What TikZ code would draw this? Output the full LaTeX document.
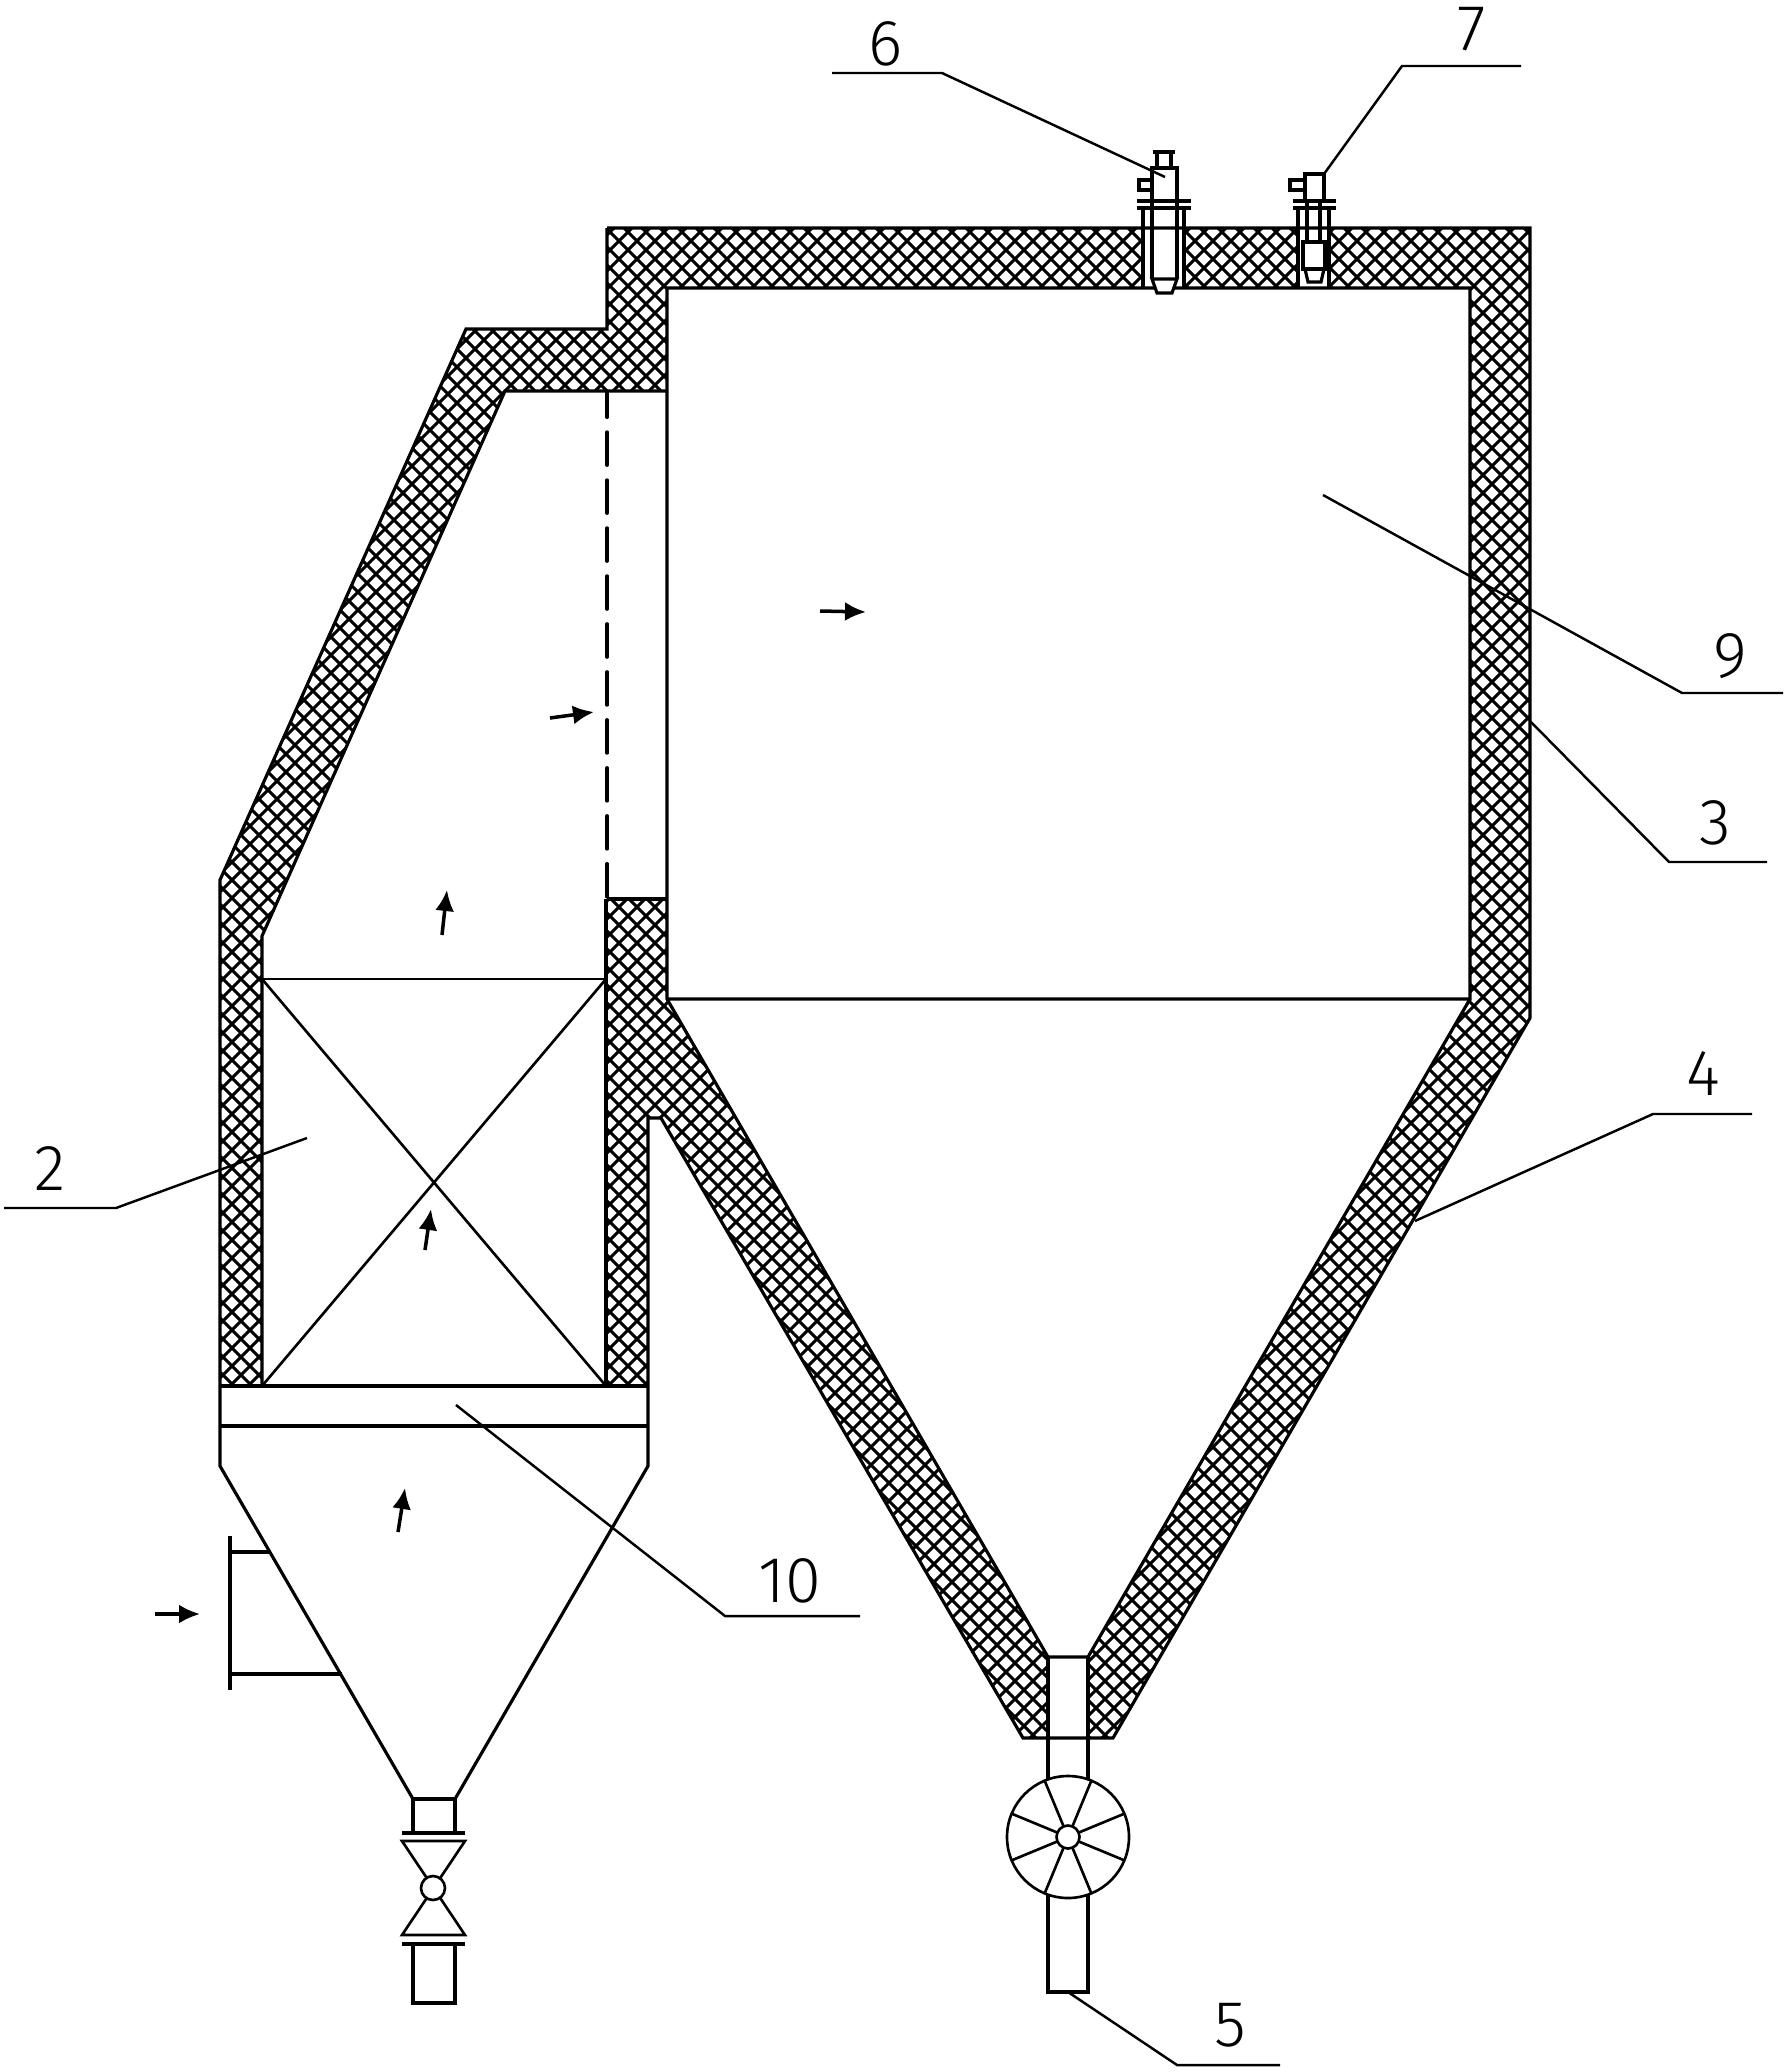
\documentclass[tikz,border=0pt]{standalone}
\usepackage{fontspec}
\setmainfont{Fira Sans}[UprightFont=* Light]
\usetikzlibrary{arrows.meta}

\begin{document}
\begin{tikzpicture}[x=.02cm, y=-.02cm, line join=miter,
	wall/.style={line width=1.8pt},
	thin wall/.style={line width=1.5pt},
	leader/.style={line width=1.4pt},
	flow/.style={line width=2pt, -{Latex[length=4.2mm,width=3.8mm]}},
	tag/.style={font=\fontsize{37}{37}\selectfont}]
	\useasboundingbox (0,0) rectangle (1787,2072);
	% insulation hatch
	\begin{scope}
	\clip (607,228) -- (1530,228) -- (1530,1018) -- (1113,1738) -- (1088,1738) -- (1088,1657) -- (1470,999) -- (1470,288) -- (667,288) -- (667,391) -- (505,391) -- (262,936) -- (262,1386) -- (220,1386) -- (220,880) -- (466,329) -- (607,329) -- cycle
	      (607,899) -- (667,899) -- (667,999) -- (1048,1657) -- (1048,1738) -- (1023,1738) -- (661,1118) -- (648,1118) -- (648,1386) -- (606,1386) -- cycle;
	\foreach \k in {-95,...,110} {
		\pgfmathsetmacro{\ca}{950+18*\k}
		\pgfmathsetmacro{\cb}{468+18*\k}
		\draw[line width=1.75pt] (-500,\ca+500) -- (\ca+500,-500);
		\draw[line width=1.75pt] (0,-\cb) -- (1787,1787-\cb);
	}
	\end{scope}
	% sleeves through the roof
	\fill[white] (1143,222) rectangle (1184,288);
	\fill[white] (1298,222) rectangle (1329,288);
	% casing
	\draw[wall] (607,228) -- (1530,228) -- (1530,1018) -- (1113,1738) -- (1023,1738) -- (661,1118) -- (648,1118) -- (648,1466) -- (455,1799);
	\draw[wall] (607,228) -- (607,329) -- (466,329) -- (220,880) -- (220,1466) -- (413,1799);
	\draw[wall] (262,1386) -- (262,936) -- (505,391) -- (667,391);
	\draw[wall] (667,999) -- (1470,999) -- (1470,288) -- (667,288) -- (667,999) -- (1048,1657) -- (1088,1657) -- (1470,999);
	\draw[wall] (607,899) -- (667,899);
	\draw[wall] (606,899) -- (606,1386);
	\draw[wall,line cap=round,dash pattern=on 19pt off 8.3pt,dash phase=4pt] (607,391) -- (607,899);
	% bed and grate
	\draw[thin wall] (262,979) rectangle (606,1386);
	\draw[thin wall] (262,979) -- (606,1386) (606,979) -- (262,1386);
	\draw[wall] (220,1386) -- (648,1386) (220,1426) -- (648,1426);
	% side inlet
	\draw[line width=2.1pt] (230,1536) -- (230,1690);
	\draw[wall] (230,1552) -- (271,1552) (230,1674) -- (342,1674);
	% bottom valve
	\draw[wall] (413,1833) -- (413,1799) -- (455,1799) -- (455,1833);
	\draw[wall] (402,1833) -- (465,1833);
	\draw[thin wall] (402,1841) -- (465,1841) -- (402,1935) -- (465,1935) -- cycle;
	\draw[fill=white,thin wall] (433,1888) circle (12);
	\draw[wall] (402,1944) -- (465,1944);
	\draw[wall] (413,1944) -- (413,2003) -- (455,2003) -- (455,1944);
	% discharge wheel
	\draw[wall] (1048,1657) -- (1048,1779) (1088,1657) -- (1088,1779);
	\draw[wall] (1048,1895) -- (1048,1992) -- (1088,1992) -- (1088,1895);
	\draw[thin wall] (1068,1837) circle (61);
	\foreach \a in {22.5,67.5,...,360}
		\draw[thin wall] (1068,1837) ++(\a:11.5) -- ++(\a:49.5);
	\draw[thin wall] (1068,1837) circle (11.5);
	% burner 6
	\draw[wall] (1153,152) -- (1175,152) (1157,152) -- (1157,168) (1171,152) -- (1171,168);
	\draw[wall] (1152,279) -- (1152,168) -- (1177,168) -- (1177,279);
	\draw[wall] (1139,178) -- (1139,192) (1139,180) -- (1152,180) (1139,190) -- (1152,190);
	\draw[wall] (1137,201) -- (1191,201) (1137,208) -- (1191,208);
	\draw[wall] (1143,208) -- (1143,288) (1184,208) -- (1184,288);
	\draw[wall,fill=white] (1152,279) -- (1177,279) -- (1172,293) -- (1157,293) -- cycle;
	% burner 7
	\draw[wall] (1305,201) -- (1305,174) -- (1324,174) -- (1324,201);
	\draw[wall] (1290,178) -- (1290,192) (1290,180) -- (1305,180) (1290,190) -- (1305,190);
	\draw[wall] (1293,201) -- (1336,201) (1293,208) -- (1336,208);
	\draw[wall] (1298,208) -- (1298,288) (1329,208) -- (1329,288);
	\draw[wall] (1307,201) -- (1307,242) (1320,201) -- (1320,242);
	\draw[wall] (1303,242) rectangle (1325,269);
	\draw[wall] (1305,269) -- (1308,282) -- (1321,282) -- (1324,269);
	% leaders
	\coordinate (tip6) at (1165,177);
	\coordinate (tip7) at (1324,174);
	\coordinate (tip9) at (1323,495);
	\coordinate (tip3) at (1530,721);
	\coordinate (tip4) at (1415,1221);
	\coordinate (tip2) at (307,1138);
	\coordinate (tip10) at (456,1405);
	\coordinate (tip5) at (1068,1992);
	\draw[leader] (tip6) -- (942,73) -- (832,73);
	\draw[leader] (tip7) -- (1402,66) -- (1521,66);
	\draw[leader] (tip9) -- (1682,693) -- (1783,693);
	\draw[leader] (tip3) -- (1669,862) -- (1767,862);
	\draw[leader] (tip4) -- (1653,1114) -- (1752,1114);
	\draw[leader] (tip2) -- (116,1208) -- (4,1208);
	\draw[leader] (tip10) -- (725,1616) -- (860,1616);
	\draw[leader] (tip5) -- (1177,2065) -- (1280,2065);
	\node[tag] (label6) at (886,44) {6};
	\node[tag] (label7) at (1472,29) {7};
	\node[tag] (label9) at (1730,656) {9};
	\node[tag] (label3) at (1715,823) {3};
	\node[tag] (label4) at (1703,1074) {4};
	\node[tag] (label2) at (50,1169) {2};
	\node[tag] (label10) at (790,1581) {10};
	\node[tag] (label5) at (1230,2025) {5};
	% gas flow
	\draw[flow] (820,611) -- (866,612);
	\draw[flow] (550,718) -- (594,712);
	\draw[flow] (442,935) -- (447,890);
	\draw[flow] (425,1250) -- (431,1209);
	\draw[flow] (398,1532) -- (405,1488);
	\draw[flow] (155,1614) -- (200,1614);
\end{tikzpicture}
\end{document}
